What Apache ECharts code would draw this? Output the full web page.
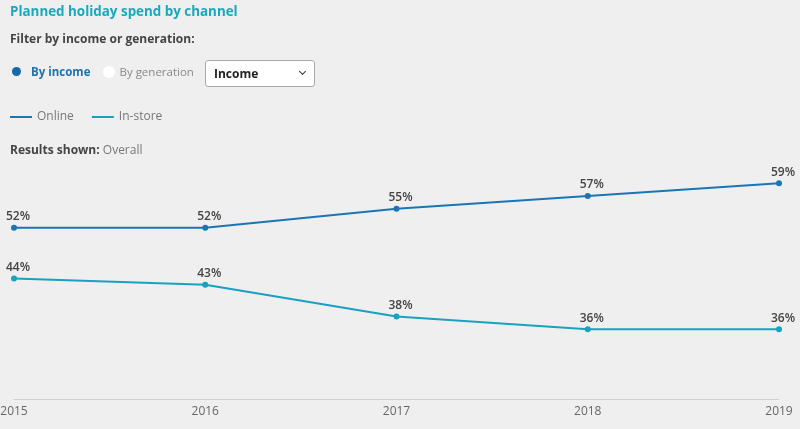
<!DOCTYPE html>
<html>
<head>
<meta charset="utf-8">
<script src="https://cdn.jsdelivr.net/npm/echarts@6/dist/echarts.min.js"></script>
<style>
  html, body { margin: 0; padding: 0; background: #efefef; }
  body { width: 800px; height: 429px; position: relative; overflow: hidden; font-family: "Open Sans", sans-serif; }
  #chart { position: absolute; left: 0; top: 0; width: 800px; height: 429px; }
  .hdr { position: absolute; left: 10px; white-space: nowrap; }
  #title { top: 2px; font-size: 13.4px; font-weight: 700; color: #1aa8bd; }
  #filter { top: 30px; font-size: 12px; font-weight: 700; color: #444; }
  #radios { top: 62px; font-size: 11.5px; height: 20px; line-height: 20px; }
  .dot { display: inline-block; width: 9px; height: 9px; border-radius: 50%; vertical-align: 0px; }
  #sel { position: absolute; left: 205px; top: 60px; width: 110px; height: 27px; background: #fff;
         border: 1px solid #aaa; border-radius: 3px; box-sizing: border-box; font-size: 12px; font-weight: 700;
         color: #222; line-height: 25px; padding-left: 8px; }
  #chev { position: absolute; right: 9px; top: 8px; width: 4px; height: 4px;
          border-right: 1.5px solid #333; border-bottom: 1.5px solid #333; transform: rotate(45deg); }
  #results { top: 141px; font-size: 12px; color: #777; }
  #results b { color: #444; }
</style>
</head>
<body>
<div id="chart"></div>
<div class="hdr" id="title">Planned holiday spend by channel</div>
<div class="hdr" id="filter">Filter by income or generation:</div>
<div class="hdr" id="radios">
  <span class="dot" style="background:#1669a8;margin-left:2px"></span>
  <b style="color:#1a73b0;margin-left:7px">By income</b>
  <span class="dot" style="background:#fff;width:12px;height:12px;margin-left:10px;vertical-align:-2px"></span>
  <span style="color:#888;margin-left:1px">By generation</span>
</div>
<div id="sel">Income<div id="chev"></div></div>
<div class="hdr" id="results"><b>Results shown:</b> Overall</div>
<script>
var years = ['2015', '2016', '2017', '2018', '2019'];
var online = [52, 52, 55, 57, 59];
var inStore = [44, 43, 38, 36, 36];

var myChart = echarts.init(document.getElementById('chart'));

function lineSeries(name, data, color) {
  return {
    name: name,
    type: 'line',
    data: data,
    symbol: 'circle',
    symbolSize: 6,
    lineStyle: { width: 2, color: color },
    itemStyle: { color: color },
    label: {
      show: true,
      position: 'top',
      distance: 2,
      offset: [4, 0],
      formatter: '{c}%',
      color: '#444',
      fontSize: 12,
      fontWeight: 600,
      fontFamily: 'Open Sans'
    },
    emphasis: { disabled: true }
  };
}

var option = {
  backgroundColor: 'transparent',
  animation: false,
  legend: {
    left: 5,
    top: 106,
    icon: 'rect',
    itemWidth: 22,
    itemHeight: 2,
    itemGap: 18,
    textStyle: { color: '#777', fontSize: 12, fontFamily: 'Open Sans' },
    data: ['Online', 'In-store']
  },
  grid: { left: 14, right: 21, top: 177, bottom: 30, outerBoundsMode: 'none' },
  xAxis: {
    type: 'category',
    data: years,
    boundaryGap: false,
    axisTick: { show: false },
    axisLine: { lineStyle: { color: '#d0d0d0', width: 1 } },
    axisLabel: { color: '#666', fontSize: 12, fontFamily: 'Open Sans', margin: 7 }
  },
  yAxis: {
    type: 'value',
    min: 25,
    max: 60,
    show: false,
    splitLine: { show: false }
  },
  series: [
    lineSeries('Online', online, '#1a75b5'),
    lineSeries('In-store', inStore, '#18a2bf')
  ]
};

myChart.setOption(option);
</script>
</body>
</html>
